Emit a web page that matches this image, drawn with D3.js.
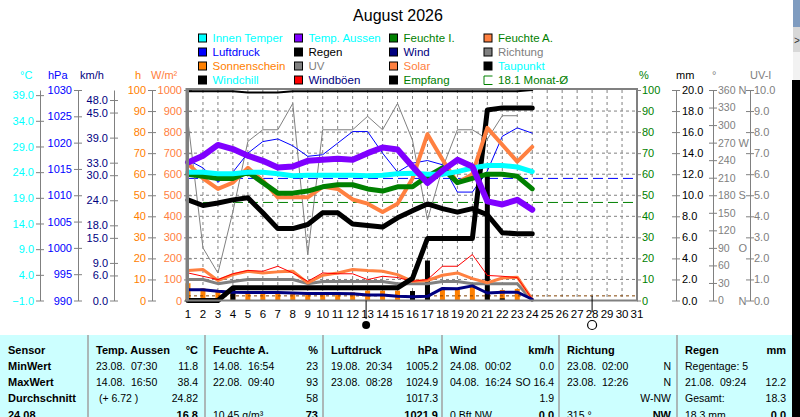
<!DOCTYPE html>
<html><head><meta charset="utf-8">
<script src="https://cdn.jsdelivr.net/npm/d3@7"></script>
<style>
body{margin:0;background:#fff;overflow:hidden;}
svg{display:block;font-family:"Liberation Sans",Arial,sans-serif;}
text{white-space:pre;}
</style>
</head><body>
<svg id="c" width="800" height="417"></svg>
<script>
// ---------------- DATA ----------------
const tage = [1,2,3,4,5,6,7,8,9,10,11,12,13,14,15,16,17,18,19,20,21,22,23,24];
const monatsTage = [1,2,3,4,5,6,7,8,9,10,11,12,13,14,15,16,17,18,19,20,21,22,23,24,25,26,27,28,29,30,31];

const tempAussen   = [25.9,27.2,29.3,28.5,27.2,26.2,24.9,25.1,26.2,26.4,26.6,26.4,27.7,28.8,28.4,25.1,21.9,24.3,26.4,25.1,18.3,17.7,18.6,16.7];
const tempInnen    = [24.0,24.0,23.7,23.7,24.0,24.0,23.7,23.3,23.4,23.4,23.4,23.4,23.3,23.4,23.7,23.8,23.6,23.6,24.1,24.8,25.3,25.3,25.0,24.1];
const taupunkt     = [18.6,17.5,18.0,18.6,19.0,16.1,13.0,13.0,13.8,16.1,16.1,13.9,13.6,13.3,15.1,16.5,17.8,16.9,16.2,16.9,15.7,12.2,12.0,12.0];
const feuchteInnen = [60,59,58,58,61,56,51,51,52,54,55,55,53,52,54,54,59,63,56,58,60,60,59,53];
const feuchteAussen= [65,58,53,56,63,57,49,49,49,54,53,48,46,42,46,58,79,67,56,60,82,74,66,73];
const luftdruck    = [1016.7,1015.2,1012.5,1014.4,1018.0,1020.2,1020.7,1019.4,1017.4,1017.7,1019.9,1022.1,1022.1,1018.0,1014.4,1016.1,1016.6,1015.8,1010.6,1010.6,1014.6,1021.2,1022.8,1021.8];
const richtung     = [306,90,47,152,272,292,292,337,78,292,292,292,315,292,337,274,138,226,292,292,276,316,316,null];
const windMittel   = [2.6,2.6,2.2,2.0,1.9,1.9,1.9,1.8,1.7,1.7,1.7,1.6,1.3,1.3,1.0,0.9,1.0,2.9,2.8,3.5,1.8,2.0,2.0,0.3];
const windBoeen    = [6.6,5.8,5.0,6.4,7.2,7.0,8.2,6.6,4.6,6.6,6.4,6.4,5.0,5.8,5.5,4.6,5.0,8.2,8.2,11.0,6.0,5.8,5.5,0.3];
const solar        = [142,147,95,123,139,131,136,139,84,120,131,147,142,139,123,91,95,120,131,104,84,107,111,5];
const uvIndex      = [1.0,1.0,0.8,0.9,1.0,1.0,1.0,1.0,0.8,0.9,0.9,0.9,0.9,0.9,0.8,0.8,0.8,0.9,0.9,0.8,0.8,0.8,0.8,0.0];
const sonnenschein = [8.2,5.8,5.0,3.5,3.9,3.9,3.9,3.9,3.4,3.9,3.9,3.9,4.7,4.7,4.7,3.5,3.5,5.8,5.8,7.3,3.5,5.0,5.5,0];
const regenTag     = [0,0,0,1.2,0,0,0,0,0,0,0,0,0,0,0,0.9,3.8,0,0,0,12.2,0.2,0,0];
const regenSumme   = [0,0,0,1.2,1.2,1.2,1.2,1.2,1.2,1.2,1.2,1.2,1.2,1.2,1.2,2.1,5.9,5.9,5.9,5.9,18.1,18.3,18.3,18.3];
const empfang      = [99.4,99.4,99.4,99.4,98.8,98.8,98.8,99.4,99.4,99.4,99.4,99.4,99.4,99.4,99.4,99.4,99.4,99.4,99.4,99.4,99.4,99.4,99.4,100];

const monatTempMittel = 18.1;     // °C, green dashed
const monatFeuchteMittel = 58;    // %, blue dashed
const sonneMittel = 2.2;          // h, brown dotted
const neumond = 12.9, vollmond = 28;

const tempTicks = [-1,4,9,14,19,24,29,34,39];
const hpaTicks  = [990,995,1000,1005,1010,1015,1020,1025,1030];
const kmhTicks  = [0,6,9,15,18,24,30,33,39,45,48];
const hTicks    = [0,10,20,30,40,50,60,70,80,90,100];
const wTicks    = [0,100,200,300,400,500,600,700,800,900,1000];
const pctTicks  = [0,10,20,30,40,50,60,70,80,90,100];
const mmTicks   = [0,2,4,6,8,10,12,14,16,18,20];
const degTicks  = [0,30,60,90,120,150,180,210,240,270,300,330,360];
const degLetters= {0:"N",90:"O",180:"S",270:"W",360:"N"};
const uvTicks   = [0,1,2,3,4,5,6,7,8,9,10];

const legendItems = [
  ["Innen Temper","#00FFFF","#00FFFF"],["Temp. Aussen","#8000FF","#00FFFF"],["Feuchte I.","#008000","#008000"],["Feuchte A.","#FF8040","#008000"],
  ["Luftdruck","#0000FF","#0000FF"],["Regen","#000000","#000000"],["Wind","#000080","#000080"],["Richtung","#808080","#808080"],
  ["Sonnenschein","#FF8000","#FF8000"],["UV","#808080","#808080"],["Solar","#FF8040","#FF8040"],["Taupunkt","#000000","#00FFFF"],
  ["Windchill","#000000","#00FFFF"],["Windböen","#FF0000","#000080"],["Empfang","#000000","#008000"],["18.1 Monat-Ø",null,"#008000"]
];

const tabKopf   = [["Sensor",""],["Temp. Aussen","°C"],["Feuchte A.","%"],["Luftdruck","hPa"],["Wind","km/h"],["Richtung",""],["Regen","mm"]];
const tabMin    = [["MinWert",""],["23.08.  07:30","11.8"],["14.08.  16:54","23"],["19.08.  20:34","1005.2"],["24.08.  00:02","0.0"],["23.08.  02:00","N"],["Regentage: 5",""]];
const tabMax    = [["MaxWert",""],["14.08.  16:50","38.4"],["22.08.  09:40","93"],["23.08.  08:28","1024.9"],["04.08.  16:24","SO 16.4"],["23.08.  12:26","N"],["21.08.  09:24","12.2"]];
const tabMittel = [["Durchschnitt",""],[" (+ 6.72 )","24.82"],["","58"],["","1017.3"],["","1.9"],["","W-NW"],["Gesamt:","18.3"]];
const tabAktuell= [["24.08",""],["","16.8"],["10.45 g/m³","73"],["","1021.9"],["0 Bft NW","0.0"],["315 °","NW"],["18.3 mm","0.0"]];

// ---------------- LAYOUT ----------------
const svg = d3.select("#c");
const plotL = 188, plotR = 637, plotT = 90, plotB = 300.5;
const GRAY = "#808080";

const x = d3.scaleLinear().domain([1,31]).range([plotL, plotR]);
const yPct  = d3.scaleLinear().domain([0,100]).range([plotB, plotT]);
const yTemp = d3.scaleLinear().domain([-1,40]).range([plotB, plotT]);
const yHpa  = d3.scaleLinear().domain([990,1030]).range([plotB, plotT]);
const yKmh  = d3.scaleLinear().domain([0,50.4]).range([plotB, plotT]);
const yH    = d3.scaleLinear().domain([0,100]).range([plotB, plotT]);
const yW    = d3.scaleLinear().domain([0,1000]).range([plotB, plotT]);
const yMm   = d3.scaleLinear().domain([0,20]).range([plotB, plotT]);
const yDeg  = d3.scaleLinear().domain([0,360]).range([plotB, plotT]);
const yUv   = d3.scaleLinear().domain([0,10]).range([plotB, plotT]);

svg.append("rect").attr("width",800).attr("height",417).attr("fill","#fff");

// title
svg.append("text").attr("x",398).attr("y",21).attr("text-anchor","middle")
  .attr("font-size",16).attr("fill","#000").text("August 2026");

// legend
const legCols = [198, 294, 389, 483.5];
const legRows = [38, 52, 66, 80];
legendItems.forEach((it,i)=>{
  const cx = legCols[i%4], cy = legRows[Math.floor(i/4)];
  const g = svg.append("g");
  if (it[1]) {
    g.append("rect").attr("x",cx+0.5).attr("y",cy-4).attr("width",8).attr("height",8)
      .attr("fill",it[1]).attr("stroke","#000").attr("stroke-width",1);
  } else {
    g.append("path").attr("d",`M${cx+9},${cy-4}H${cx+0.5}V${cy+4.5}H${cx+9}`)
      .attr("fill","none").attr("stroke",it[2]).attr("stroke-width",1);
  }
  g.append("text").attr("x",cx+14.5).attr("y",cy+4).attr("font-size",11.5).attr("fill",it[2]).text(it[0]);
});

// ---------------- AXES ----------------
function styleAxis(g, color, side){
  g.select(".domain").attr("stroke",GRAY).attr("stroke-width",1);
  g.selectAll(".tick line").attr("stroke",GRAY).attr("x1", side==="left"?4:-4);
  g.selectAll(".tick text").attr("fill",color).attr("font-size",11).attr("font-family","Liberation Sans, Arial, sans-serif");
}
function leftAxis(px, scale, ticks, fmt, color){
  const g = svg.append("g").attr("transform",`translate(${px},0)`)
    .call(d3.axisLeft(scale).tickValues(ticks).tickFormat(fmt).tickSize(4).tickPadding(2).tickSizeOuter(0));
  styleAxis(g,color,"left");
  return g;
}
function rightAxis(px, scale, ticks, fmt, color, pad){
  const g = svg.append("g").attr("transform",`translate(${px},0)`)
    .call(d3.axisRight(scale).tickValues(ticks).tickFormat(fmt).tickSize(4).tickPadding(pad).tickSizeOuter(0));
  styleAxis(g,color,"right");
  return g;
}
const f1 = d3.format(".1f"), f0 = d3.format("d");
leftAxis(40, yTemp, tempTicks, f1, "#00FFFF");
leftAxis(78, yHpa, hpaTicks, f0, "#0000FF");
leftAxis(114, yKmh, kmhTicks, f1, "#000080");
leftAxis(152, yH, hTicks, f0, "#FF8000");
leftAxis(188, yW, wTicks, f0, "#FF8040");

const pctAx = rightAxis(637, yPct, pctTicks, f0, "#008000", 1);
pctAx.select(".domain").remove();
pctAx.selectAll(".tick line").attr("x1",0);
rightAxis(676, yMm, mmTicks, f1, "#000000", 2);
const degAx = rightAxis(713, yDeg, degTicks, f0, GRAY, 1);
degAx.selectAll(".tick text").attr("font-size",10.5);
degAx.selectAll(".tick").append("text").attr("x",25.5).attr("dy","0.32em")
  .attr("fill",GRAY).attr("font-size",11).text(d=>degLetters[d]||"");
rightAxis(750, yUv, uvTicks, f1, GRAY, 0);

// axis headers
const heads = [["°C",20,"#00FFFF"],["hPa",48,"#0000FF"],["km/h",80,"#000080"],["h",135,"#FF8000"],["W/m²",151,"#FF8040"],
               ["%",639,"#008000"],["mm",676,"#000000"],["°",712,GRAY],["UV-I",750,GRAY]];
heads.forEach(h=>svg.append("text").attr("x",h[1]).attr("y",79).attr("font-size",11).attr("fill",h[2]).text(h[0]));

// ---------------- PLOT ----------------
const plot = svg.append("g");
// grid
plot.selectAll(".vg").data(monatsTage.slice(1,30)).enter().append("line")
  .attr("x1",d=>x(d)).attr("x2",d=>x(d)).attr("y1",plotT).attr("y2",plotB)
  .attr("stroke",GRAY).attr("stroke-dasharray","3,3").attr("stroke-width",1);
plot.selectAll(".hg").data(pctTicks.slice(1,10)).enter().append("line")
  .attr("x1",plotL).attr("x2",plotR).attr("y1",d=>yPct(d)).attr("y2",d=>yPct(d))
  .attr("stroke",GRAY).attr("stroke-dasharray","3,3").attr("stroke-width",1);

// reference dashed lines
plot.append("line").attr("x1",plotL).attr("x2",plotR).attr("y1",yPct(monatFeuchteMittel)).attr("y2",yPct(monatFeuchteMittel))
  .attr("stroke","#0000FF").attr("stroke-dasharray","10,5");
plot.append("line").attr("x1",plotL).attr("x2",plotR).attr("y1",yTemp(monatTempMittel)).attr("y2",yTemp(monatTempMittel))
  .attr("stroke","#008000").attr("stroke-dasharray","10,5");

// sunshine bars
plot.selectAll(".sun").data(sonnenschein).enter().append("rect")
  .attr("x",(d,i)=>x(tage[i])-2.5).attr("width",5)
  .attr("y",d=>yH(d)).attr("height",d=>plotB-yH(d)).attr("fill","#FF8000");
plot.append("line").attr("x1",plotL).attr("x2",plotR).attr("y1",yH(sonneMittel)).attr("y2",yH(sonneMittel))
  .attr("stroke","#804000").attr("stroke-dasharray","3,3");
// rain bars
plot.selectAll(".rain").data(regenTag).enter().append("rect")
  .attr("x",(d,i)=>x(tage[i])-2.5).attr("width",5)
  .attr("y",d=>yMm(d)).attr("height",d=>plotB-yMm(d)).attr("fill","#000");

function drawLine(vals, ys, color, w){
  const ln = d3.line().defined(d=>d!=null).x((d,i)=>x(tage[i])).y(d=>ys(d));
  plot.append("path").datum(vals).attr("d",ln).attr("fill","none")
    .attr("stroke",color).attr("stroke-width",w).attr("stroke-linejoin","round").attr("stroke-linecap","round");
}
drawLine(richtung, yDeg, GRAY, 1);
drawLine(luftdruck, yHpa, "#0000FF", 1);
drawLine(uvIndex, yUv, GRAY, 3);
drawLine(solar, yW, "#FF8040", 3);
drawLine(windBoeen, yKmh, "#FF0000", 1);
drawLine(windMittel, yKmh, "#000080", 3);
drawLine(regenSumme, yMm, "#000", 5);
drawLine(taupunkt, yTemp, "#000", 5);
drawLine(feuchteAussen, yPct, "#FF8040", 4);
drawLine(feuchteInnen, yPct, "#008000", 5);
drawLine(tempInnen, yTemp, "#00FFFF", 5);
drawLine(tempAussen, yTemp, "#8000FF", 6);
drawLine(empfang, yPct, "#000", 2);

// frame
plot.append("rect").attr("x",plotL).attr("y",plotT-1).attr("width",plotR-plotL).attr("height",plotB-plotT+1)
  .attr("fill","none").attr("stroke",GRAY).attr("stroke-width",2);
plot.append("line").attr("x1",plotL-1.5).attr("x2",plotL-1.5).attr("y1",plotT-2).attr("y2",plotB+1)
  .attr("stroke",GRAY).attr("stroke-width",2);

// day labels
svg.selectAll(".dl").data(monatsTage).enter().append("text")
  .attr("x",d=>x(d)).attr("y",318).attr("text-anchor","middle").attr("font-size",11.5).attr("fill","#000").text(d=>d);

// moon phases
svg.append("line").attr("x1",x(neumond)).attr("x2",x(neumond)).attr("y1",plotB).attr("y2",319).attr("stroke","#000");
svg.append("circle").attr("cx",x(neumond)).attr("cy",325).attr("r",4).attr("fill","#000");
svg.append("line").attr("x1",x(vollmond)).attr("x2",x(vollmond)).attr("y1",296).attr("y2",312).attr("stroke","#000");
svg.append("circle").attr("cx",x(vollmond)).attr("cy",325).attr("r",4.5).attr("fill","none").attr("stroke","#000").attr("stroke-width",1.2);

// ---------------- TABLE ----------------
svg.append("rect").attr("x",0).attr("y",335).attr("width",792).attr("height",82).attr("fill","#CCFFFF");
[88,205,323,442,559,677].forEach(sx=>svg.append("line").attr("x1",sx).attr("x2",sx).attr("y1",335).attr("y2",417)
  .attr("stroke","#a0a0a0").attr("stroke-width",1.5));
const colL = [8,96,213,331,450,567,685];
const colR = [null,198,318,438,554,671,786];
const rows = [tabKopf, tabMin, tabMax, tabMittel, tabAktuell];
const rowY = [354,370,386,402,418.5];
rows.forEach((r,ri)=>{
  r.forEach((cell,ci)=>{
    const boldL = ri===0 || ci===0;
    const boldR = ri===0 || ri===4;
    if (cell[0]) svg.append("text").attr("x",colL[ci]).attr("y",rowY[ri]).attr("font-size",boldL?11:10.5)
      .attr("font-weight",boldL?"bold":"normal").attr("fill","#000").text(cell[0]);
    if (cell[1] && colR[ci]) svg.append("text").attr("x",colR[ci]).attr("y",rowY[ri]).attr("font-size",boldR?11:10.5)
      .attr("text-anchor","end").attr("font-weight",boldR?"bold":"normal").attr("fill","#000").text(cell[1]);
  });
});

// window edge
svg.append("rect").attr("x",793).attr("y",0).attr("width",7).attr("height",27).attr("fill","#7f9cc0");
svg.append("rect").attr("x",793).attr("y",27).attr("width",7).attr("height",25).attr("fill","#d8d8d8");
svg.append("text").attr("x",794).attr("y",44).attr("font-size",10).attr("fill","#333").text(">");
svg.append("rect").attr("x",793).attr("y",52).attr("width",7).attr("height",28).attr("fill","#f2f2f2");
svg.append("rect").attr("x",792).attr("y",80).attr("width",8).attr("height",337).attr("fill","#000");
</script>
</body></html>
